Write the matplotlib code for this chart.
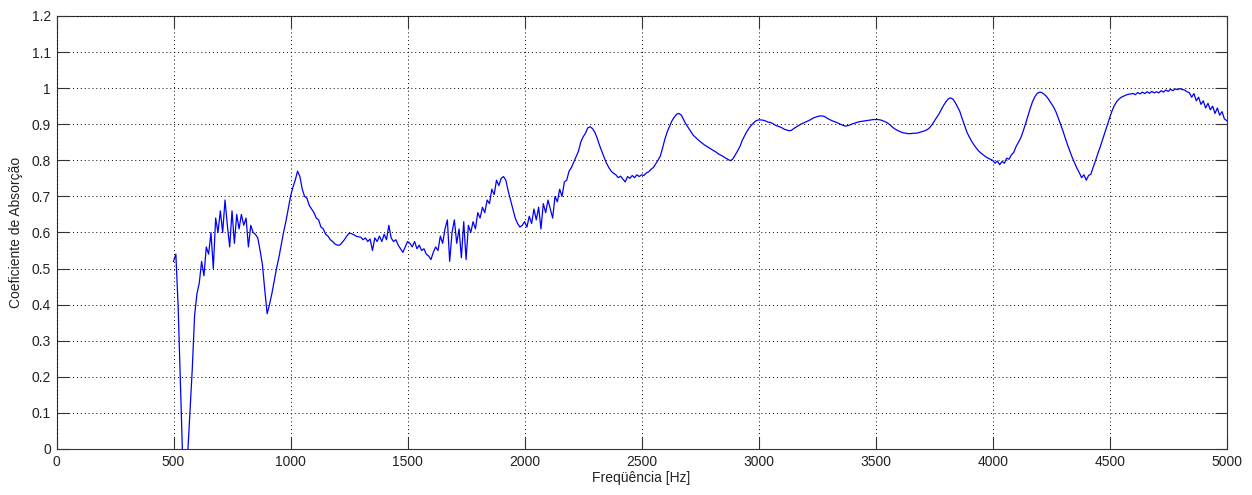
import numpy as np
import matplotlib
matplotlib.use("Agg")
import matplotlib.pyplot as plt

# Absorption coefficient measured on a 10 Hz grid, 500 Hz .. 5000 Hz
freq_start_hz = 500
freq_step_hz = 10
absorption = [
    # 500 - 590
    0.52, 0.54, 0.39, 0.17, -0.05, -0.10, -0.02, 0.10, 0.22, 0.37,
    # 600 - 690
    0.43, 0.46, 0.52, 0.48, 0.56, 0.54, 0.60, 0.50, 0.64, 0.60,
    # 700 - 790
    0.66, 0.60, 0.69, 0.62, 0.56, 0.66, 0.57, 0.65, 0.61, 0.65,
    # 800 - 890
    0.62, 0.64, 0.56, 0.62, 0.60, 0.595, 0.585, 0.55, 0.51, 0.44,
    # 900 - 990
    0.375, 0.40, 0.43, 0.465, 0.50, 0.53, 0.565, 0.60, 0.63, 0.665,
    # 1000 - 1090
    0.70, 0.725, 0.745, 0.77, 0.755, 0.72, 0.70, 0.695, 0.675, 0.665,
    # 1100 - 1190
    0.655, 0.64, 0.635, 0.615, 0.61, 0.595, 0.59, 0.58, 0.575, 0.568,
    # 1200 - 1290
    0.565, 0.565, 0.572, 0.58, 0.59, 0.598, 0.597, 0.594, 0.59, 0.588,
    # 1300 - 1390
    0.587, 0.58, 0.585, 0.575, 0.582, 0.55, 0.585, 0.575, 0.59, 0.575,
    # 1400 - 1490
    0.595, 0.58, 0.62, 0.585, 0.575, 0.58, 0.565, 0.555, 0.545, 0.56,
    # 1500 - 1590
    0.575, 0.57, 0.56, 0.575, 0.555, 0.565, 0.55, 0.555, 0.54, 0.535,
    # 1600 - 1690
    0.525, 0.545, 0.56, 0.55, 0.59, 0.57, 0.61, 0.635, 0.52, 0.60,
    # 1700 - 1790
    0.635, 0.57, 0.61, 0.53, 0.63, 0.525, 0.62, 0.60, 0.63, 0.61,
    # 1800 - 1890
    0.655, 0.64, 0.67, 0.655, 0.69, 0.68, 0.72, 0.705, 0.745, 0.73,
    # 1900 - 1990
    0.75, 0.755, 0.745, 0.715, 0.69, 0.665, 0.64, 0.625, 0.615, 0.62,
    # 2000 - 2090
    0.63, 0.615, 0.645, 0.625, 0.665, 0.635, 0.67, 0.61, 0.68, 0.655,
    # 2100 - 2190
    0.69, 0.665, 0.64, 0.70, 0.685, 0.72, 0.70, 0.74, 0.745, 0.77,
    # 2200 - 2290
    0.78, 0.795, 0.81, 0.825, 0.85, 0.865, 0.875, 0.89, 0.893, 0.888,
    # 2300 - 2390
    0.878, 0.862, 0.842, 0.825, 0.808, 0.792, 0.78, 0.77, 0.764, 0.76,
    # 2400 - 2490
    0.752, 0.756, 0.748, 0.74, 0.755, 0.75, 0.758, 0.752, 0.76, 0.755,
    # 2500 - 2590
    0.76, 0.758, 0.765, 0.768, 0.775, 0.78, 0.79, 0.80, 0.812, 0.835,
    # 2600 - 2690
    0.86, 0.88, 0.895, 0.91, 0.92, 0.928, 0.93, 0.925, 0.912, 0.90,
    # 2700 - 2790
    0.89, 0.88, 0.87, 0.864, 0.858, 0.852, 0.847, 0.842, 0.838, 0.834,
    # 2800 - 2890
    0.83, 0.826, 0.822, 0.817, 0.814, 0.81, 0.806, 0.802, 0.799, 0.804,
    # 2900 - 2990
    0.815, 0.826, 0.838, 0.855, 0.868, 0.88, 0.89, 0.898, 0.905, 0.91,
    # 3000 - 3090
    0.912, 0.912, 0.911, 0.909, 0.906, 0.905, 0.902, 0.898, 0.895, 0.893,
    # 3100 - 3190
    0.89, 0.886, 0.884, 0.882, 0.883, 0.888, 0.892, 0.896, 0.90, 0.903,
    # 3200 - 3290
    0.906, 0.909, 0.912, 0.916, 0.919, 0.921, 0.923, 0.923, 0.922, 0.918,
    # 3300 - 3390
    0.914, 0.911, 0.908, 0.906, 0.903, 0.90, 0.897, 0.895, 0.896, 0.898,
    # 3400 - 3490
    0.901, 0.903, 0.905, 0.907, 0.908, 0.909, 0.91, 0.911, 0.912, 0.913,
    # 3500 - 3590
    0.913, 0.913, 0.912, 0.91, 0.907, 0.904, 0.899, 0.893, 0.888, 0.884,
    # 3600 - 3690
    0.881, 0.878, 0.876, 0.875, 0.874, 0.874, 0.875, 0.875, 0.876, 0.878,
    # 3700 - 3790
    0.88, 0.882, 0.885, 0.89, 0.898, 0.908, 0.918, 0.928, 0.94, 0.952,
    # 3800 - 3890
    0.962, 0.97, 0.973, 0.97, 0.96, 0.948, 0.935, 0.915, 0.897, 0.878,
    # 3900 - 3990
    0.865, 0.853, 0.843, 0.834, 0.826, 0.82, 0.815, 0.81, 0.806, 0.803,
    # 4000 - 4090
    0.80, 0.792, 0.798, 0.788, 0.797, 0.792, 0.806, 0.803, 0.815, 0.822,
    # 4100 - 4190
    0.838, 0.85, 0.862, 0.88, 0.90, 0.922, 0.943, 0.962, 0.976, 0.985,
    # 4200 - 4290
    0.989, 0.988, 0.983, 0.977, 0.968, 0.958, 0.948, 0.935, 0.918, 0.90,
    # 4300 - 4390
    0.882, 0.862, 0.843, 0.825, 0.808, 0.793, 0.778, 0.766, 0.752, 0.760,
    # 4400 - 4490
    0.745, 0.758, 0.762, 0.782, 0.80, 0.82, 0.838, 0.858, 0.878, 0.898,
    # 4500 - 4590
    0.918, 0.937, 0.952, 0.963, 0.97, 0.975, 0.978, 0.981, 0.983, 0.984,
    # 4600 - 4690
    0.985, 0.982, 0.988, 0.984, 0.989, 0.985, 0.990, 0.986, 0.991, 0.987,
    # 4700 - 4790
    0.99, 0.987, 0.993, 0.989, 0.995, 0.991, 0.997, 0.993, 0.998, 0.996,
    # 4800 - 4890
    0.999, 0.996, 0.995, 0.99, 0.988, 0.975, 0.985, 0.965, 0.975, 0.955,
    # 4900 - 4990
    0.965, 0.945, 0.958, 0.94, 0.95, 0.93, 0.945, 0.925, 0.935, 0.915,
    # 5000
    0.91,
]

x_ticks = [0, 500, 1000, 1500, 2000, 2500, 3000, 3500, 4000, 4500, 5000]
y_ticks = [0, 0.1, 0.2, 0.3, 0.4, 0.5, 0.6, 0.7, 0.8, 0.9, 1, 1.1, 1.2]
y_tick_labels = ["0", "0.1", "0.2", "0.3", "0.4", "0.5", "0.6", "0.7",
                 "0.8", "0.9", "1", "1.1", "1.2"]

freq = freq_start_hz + freq_step_hz * np.arange(len(absorption))

plt.rcParams["font.family"] = ["Liberation Sans", "DejaVu Sans"]

fig = plt.figure(figsize=(12.52, 4.95), dpi=100)
ax = fig.add_axes([56.5 / 1252, 1 - 449 / 495, (1226.7 - 56.5) / 1252, (449 - 16) / 495])

ax.plot(freq, absorption, color="#0000ff", linewidth=0.9)

ax.set_xlim(0, 5000)
ax.set_ylim(0, 1.2)
ax.set_xticks(x_ticks)
ax.set_xticklabels([str(t) for t in x_ticks])
ax.set_yticks(y_ticks)
ax.set_yticklabels(y_tick_labels)

ax.grid(True, color="black", linestyle=(0, (1, 3)), linewidth=0.7)
ax.set_axisbelow(False)

ax.tick_params(direction="in", length=8.4, width=0.8, color="#333333",
               labelsize=10, labelcolor="#222222", pad=4,
               top=True, right=True)
for spine in ax.spines.values():
    spine.set_color("#333333")
    spine.set_linewidth(0.8)

ax.set_xlabel("Freqüência [Hz]", fontsize=10, color="#222222", labelpad=2)
ax.set_ylabel("Coeficiente de Absorção", fontsize=10, color="#222222", labelpad=6)

fig.savefig("out.png", dpi=100)
